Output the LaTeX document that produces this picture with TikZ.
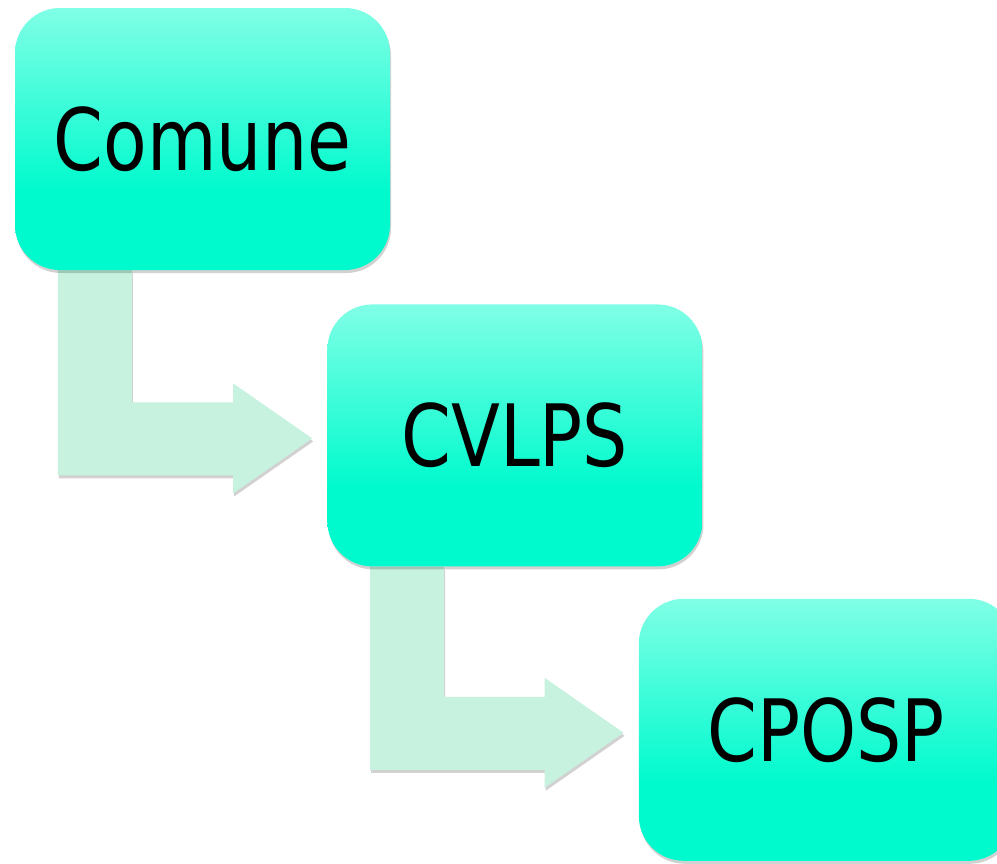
\documentclass[tikz,border=0pt]{standalone}
\usepackage{fontspec}
\newfontfamily\boxfont[FakeStretch=0.83]{DejaVu Sans}
\usetikzlibrary{calc}
\usetikzlibrary{positioning}
\usetikzlibrary{shadows,backgrounds}

\definecolor{topgreen}{RGB}{128,255,230}
\definecolor{botgreen}{RGB}{0,250,205}
\definecolor{arrowgreen}{RGB}{198,242,223}
\pgfdeclareverticalshading{boxshade}{100bp}{color(0bp)=(botgreen); color(40bp)=(botgreen); color(75bp)=(topgreen); color(100bp)=(topgreen)}

\begin{document}
\begin{tikzpicture}[x=1pt, y=-1pt,
  box/.style={rounded corners=45pt, shading=boxshade, minimum width=375pt, minimum height=262pt,
    inner sep=0pt, font=\boxfont\fontsize{86}{90}\selectfont,
    drop shadow={shadow xshift=1pt, shadow yshift=-3pt, opacity=.18, fill=black}},
  bent/.style={fill=arrowgreen,
    drop shadow={shadow xshift=1pt, shadow yshift=-3pt, opacity=.18, fill=black}}]
\useasboundingbox (0,0) rectangle (997,863);

\node[box] (comune) at (202.5,139) {Comune};
\node[box, below right=34pt and -63pt of comune] (cvlps) {CVLPS};
\node[box, below right=32pt and -64pt of cvlps] (cposp) {CPOSP};

% bent arrows behind the boxes
\begin{pgfonlayer}{background}
\foreach \a/\b in {comune/cvlps, cvlps/cposp} {
  \coordinate (tip) at ($(\b.west)+(-15,3)$);
  \path[bent] ($(\a.south west)+(43,0)$) -- ($(\a.south west)+(117,0)$)
    |- ($(tip)+(-79,-36)$) -- ($(tip)+(-79,-55)$) -- (tip)
    -- ($(tip)+(-79,55)$) -- ($(tip)+(-79,37)$) -| ($(\a.south west)+(43,0)$) -- cycle;
}
\end{pgfonlayer}
\end{tikzpicture}
\end{document}
